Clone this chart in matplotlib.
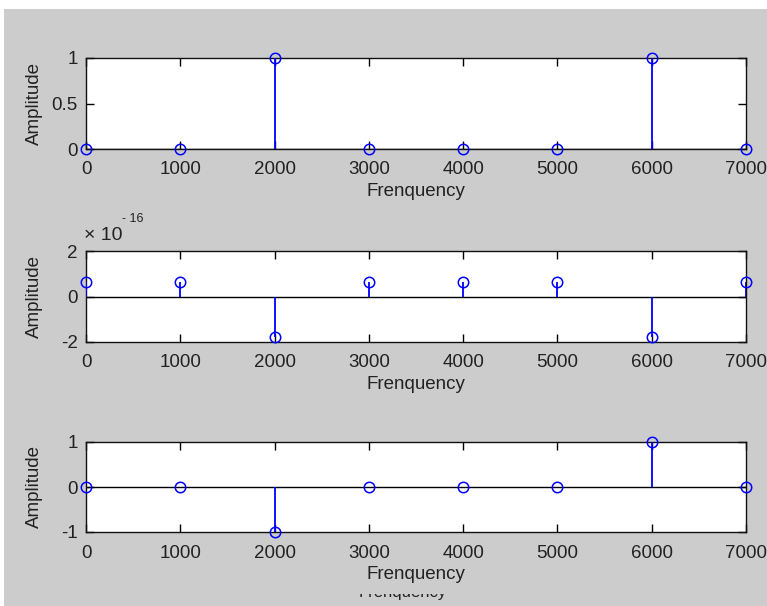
import matplotlib
matplotlib.use("Agg")
import matplotlib.pyplot as plt
from matplotlib.patches import Rectangle
import numpy as np

# ---- data ----
freq = [0, 1000, 2000, 3000, 4000, 5000, 6000, 7000]
amp_top = [0, 0, 1, 0, 0, 0, 1, 0]
amp_mid = [0.65, 0.65, -1.8, 0.65, 0.65, 0.65, -1.8, 0.65]   # in units of 1e-16
amp_bot = [0, 0, -1, 0, 0, 0, 1, 0]
xticks = [0, 1000, 2000, 3000, 4000, 5000, 6000, 7000]
yticks_top = [0, 0.5, 1]
yticklabels_top = ["0", "0.5", "1"]
yticks_mid = [-2, 0, 2]
yticks_bot = [-1, 0, 1]
xlabel = "Frenquency"
ylabel = "Amplitude"

W, H = 767, 606
FS = 13.5
plt.rcParams['font.family'] = ['Liberation Sans', 'DejaVu Sans']
fig = plt.figure(figsize=(W / 100, H / 100), dpi=100, facecolor='white')

# gray MATLAB figure background
bg = Rectangle((4 / W, 0), 1 - 4 / W, 1 - 9 / H, transform=fig.transFigure,
               facecolor='#cccccc', edgecolor='none', zorder=-10)
fig.add_artist(bg)

BLUE = '#0000ff'
TXT = '#222222'

def px_axes(left, top, right, bottom):
    return fig.add_axes([left / W, 1 - bottom / H, (right - left) / W, (bottom - top) / H])

def style(ax, yt, ylim, ytl=None):
    ax.set_xlim(0, 7000)
    ax.set_ylim(*ylim)
    ax.set_xticks(xticks)
    ax.set_xticklabels([str(v) for v in xticks])
    ax.set_yticks(yt)
    if ytl is not None:
        ax.set_yticklabels(ytl)
    else:
        ax.set_yticklabels([str(v) for v in yt])
    ax.tick_params(direction='in', length=6, width=1, top=True, right=True,
                   labelsize=FS, colors='black', labelcolor=TXT)
    ax.tick_params(axis='x', pad=9)
    ax.tick_params(axis='y', pad=6)
    for s in ax.spines.values():
        s.set_linewidth(1)
        s.set_color('#111111')
    ax.set_xlabel(xlabel, fontsize=FS, color=TXT, labelpad=3.5)
    ax.set_ylabel(ylabel, fontsize=FS, color=TXT)
    ax.yaxis.set_label_coords(-(86 - 43) / 660, 0.5)
    ax.set_facecolor('white')

def stems(ax, x, y):
    ax.axhline(0, color='black', lw=1, zorder=2)
    ax.vlines(x, 0, y, color=BLUE, lw=1.3, zorder=3)
    ax.plot(x, y, 'o', mfc='none', mec=BLUE, ms=7.5, mew=1.1, clip_on=False, zorder=4)

ax1 = px_axes(86, 58, 746, 149)
stems(ax1, freq, amp_top)
style(ax1, yticks_top, (0, 1), yticklabels_top)

ax2 = px_axes(86, 251, 746, 342)
stems(ax2, freq, amp_mid)
style(ax2, yticks_mid, (-2, 2))
fig.text(84 / W, 1 - 235 / H, "\u00d7 10", fontsize=14, color=TXT, ha='left', va='center')
fig.text(122 / W, 1 - 219 / H, "- 16", fontsize=9, color=TXT, ha='left', va='center')

ax3 = px_axes(86, 442, 746, 532)
stems(ax3, freq, amp_bot)
style(ax3, yticks_bot, (-1, 1))

# ghost, partially clipped label at the very bottom
g = fig.text(403 / W, 1 - 592 / H, xlabel, fontsize=12, color=TXT, ha='center', va='center')
clip = Rectangle((0, 0), W, 606 - 594, transform=None)
g.set_clip_path(clip)

fig.savefig("out.png", dpi=100, facecolor=fig.get_facecolor())
